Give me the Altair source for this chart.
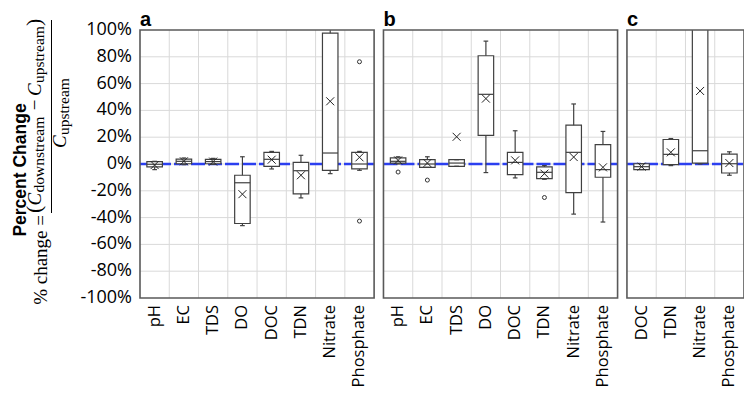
import altair as alt
import pandas as pd

# ---------------- data (percent change) ----------------
panels = ["a", "b", "c"]
params_a = ["pH", "EC", "TDS", "DO", "DOC", "TDN", "Nitrate", "Phosphate"]
params_b = ["pH", "EC", "TDS", "DO", "DOC", "TDN", "Nitrate", "Phosphate"]
params_c = ["DOC", "TDN", "Nitrate", "Phosphate"]

lo_a = [-4.2, -0.5, -0.3, -46.0, -3.7, -25.3, -7.2, -4.7]
q1_a = [-2.2, 0.2, 0.2, -44.4, -1.7, -22.3, -4.7, -3.7]
med_a = [-0.2, 2.0, 1.8, -14.0, 3.5, -5.0, 8.2, 0.0]
q3_a = [1.7, 3.7, 3.5, -8.4, 8.7, 1.2, 97.6, 8.7]
hi_a = [2.0, 4.5, 4.2, 5.4, 9.4, 6.5, 105.0, 9.4]
mean_a = [-0.8, 2.0, 1.8, -22.5, 3.2, -8.4, 46.8, 5.0]
out_a_param = ["Phosphate", "Phosphate"]
out_a_val = [76.3, -42.6]

lo_b = [0.0, -2.5, -1.7, -6.4, -10.4, -11.4, -37.4, -43.3]
q1_b = [0.7, -2.5, -1.7, 21.3, -8.0, -10.9, -21.3, -9.9]
med_b = [2.0, 0.0, 0.7, 52.0, 1.2, -6.2, 8.7, -4.2]
q3_b = [4.5, 3.2, 3.2, 80.8, 8.7, -2.2, 29.0, 14.4]
hi_b = [5.4, 5.4, 3.2, 91.7, 24.8, -1.2, 44.8, 24.3]
mean_b = [2.7, 0.7, 20.3, 48.8, 2.7, -7.2, 5.2, -2.5]
out_b_param = ["pH", "EC", "TDN"]
out_b_val = [-6.0, -12.0, -25.0]

lo_c = [-4.2, -1.2, 0.0, -8.4]
q1_c = [-4.2, -0.5, 0.7, -6.7]
med_c = [-2.0, 7.2, 9.9, 0.2]
q3_c = [0.2, 18.3, 160.0, 7.4]
hi_c = [0.2, 19.0, 190.0, 9.1]
mean_c = [-2.0, 8.7, 54.5, 0.7]
out_c_param = []
out_c_val = []

y_ticks = [-100, -80, -60, -40, -20, 0, 20, 40, 60, 80, 100]
y_labels = [f"{t}%" for t in y_ticks]

# ---------------- layout helpers ----------------
W, H = 604, 268
gap = 0.32
half_box = 0.265
half_cap = 0.08

panel_params = [params_a, params_b, params_c]
stats = [
    (lo_a, q1_a, med_a, q3_a, hi_a, mean_a, out_a_param, out_a_val),
    (lo_b, q1_b, med_b, q3_b, hi_b, mean_b, out_b_param, out_b_val),
    (lo_c, q1_c, med_c, q3_c, hi_c, mean_c, out_c_param, out_c_val),
]

starts = []
s = 0.0
for p in panel_params:
    starts.append(s)
    s += len(p) + gap
total = s - gap

box_rows, out_rows, panel_rows, hgrid_rows, vgrid_rows = [], [], [], [], []
for letter, start, params, st in zip(panels, starts, panel_params, stats):
    lo, q1, med, q3, hi, mean, op, ov = st
    end = start + len(params)
    panel_rows.append(dict(panel=letter, start=start, end=end, zero=0))
    for t in y_ticks[1:-1]:
        hgrid_rows.append(dict(start=start, end=end, v=t))
    for k in range(1, len(params)):
        vgrid_rows.append(dict(b=start + k))
    centers = {}
    for i, name in enumerate(params):
        c = start + i + 0.5
        centers[name] = c
        box_rows.append(dict(panel=letter, param=name, c=c,
                             bl=c - half_box, br=c + half_box,
                             cl=c - half_cap, cr=c + half_cap,
                             lo=lo[i], q1=q1[i], med=med[i], q3=q3[i],
                             hi=hi[i], mean=mean[i]))
    for name, v in zip(op, ov):
        out_rows.append(dict(c=centers[name], v=v))

box = pd.DataFrame(box_rows)
outl = pd.DataFrame(out_rows)
pan = pd.DataFrame(panel_rows)
hgrid = pd.DataFrame(hgrid_rows)
vgrid = pd.DataFrame(vgrid_rows)
yt = pd.DataFrame({"v": y_ticks, "lab": y_labels})
one = pd.DataFrame({"k": [0]})

xs = alt.Scale(domain=[0, total], nice=False, zero=False)
ys = alt.Scale(domain=[-100, 100], nice=False, zero=False)


def X(f):
    return alt.X(f + ":Q", scale=xs, axis=None)


def Y(f):
    return alt.Y(f + ":Q", scale=ys, axis=None)


edge = "#404040"

hgrid_l = alt.Chart(hgrid).mark_rule(color="#d9d9d9", strokeWidth=1).encode(
    x=X("start"), x2="end", y=Y("v")
)
vgrid_l = alt.Chart(vgrid).mark_rule(color="#d9d9d9", strokeWidth=1).encode(
    x=X("b"), y=alt.value(0), y2=alt.value(H)
)
ylabels = alt.Chart(yt).mark_text(align="right", baseline="middle",
                                  font="Open Sans", fontSize=18,
                                  color="black").encode(
    x=alt.value(-8), y=Y("v"), text="lab:N"
)
blue_l = alt.Chart(pan).mark_rule(color="#2b3ff0", strokeWidth=2.6,
                                  strokeDash=[14, 3]).encode(
    x=X("start"), x2="end", y=Y("zero")
)
whisk = alt.Chart(box).mark_rule(color=edge, strokeWidth=1.2, clip=True).encode(
    x=X("c"), y=Y("lo"), y2="hi"
)
boxes = alt.Chart(box).mark_rect(fill="white", stroke=edge, strokeWidth=1.2,
                                 clip=True).encode(
    x=X("bl"), x2="br", y=Y("q1"), y2="q3"
)
medl = alt.Chart(box).mark_rule(color=edge, strokeWidth=1.2, clip=True).encode(
    x=X("bl"), x2="br", y=Y("med")
)
cap_lo = alt.Chart(box).mark_rule(color=edge, strokeWidth=1.2, clip=True).encode(
    x=X("cl"), x2="cr", y=Y("lo")
)
cap_hi = alt.Chart(box).mark_rule(color=edge, strokeWidth=1.2, clip=True).encode(
    x=X("cl"), x2="cr", y=Y("hi")
)
means = alt.Chart(box).mark_point(shape="M-1,-1L1,1M-1,1L1,-1", size=64,
                                  filled=False, color="#222222",
                                  strokeWidth=1, opacity=1, clip=True).encode(
    x=X("c"), y=Y("mean")
)
outs = alt.Chart(outl).mark_point(shape="circle", size=16, filled=True,
                                  fill="white", stroke="#333333",
                                  strokeWidth=1, opacity=1).encode(
    x=X("c"), y=Y("v")
)
frames = alt.Chart(pan).mark_rect(fill="white", fillOpacity=0,
                                  stroke="#595959", strokeWidth=1.6).encode(
    x=X("start"), x2="end", y=alt.value(0), y2=alt.value(H)
)
xlabels = alt.Chart(box).mark_text(angle=270, align="right", baseline="middle",
                                   font="Open Sans", fontSize=16.5,
                                   color="black").encode(
    x=X("c"), y=alt.value(H + 7), text="param:N"
)
titles = alt.Chart(pan).mark_text(align="left", baseline="alphabetic",
                                  font="Liberation Sans", fontWeight="bold",
                                  fontSize=20, color="black").encode(
    x=X("start"), y=alt.value(-4), text="panel:N"
)


def note(text, x, y, size, align="left", style="normal", weight="normal",
         font="Liberation Serif"):
    return alt.Chart(one).mark_text(
        text=text, angle=270, align=align, baseline="alphabetic", font=font,
        fontSize=size, fontStyle=style, fontWeight=weight, color="black"
    ).encode(x=alt.value(x), y=alt.value(y))


notes = [
    note("Percent Change", -114, 140, 17.5, align="center", weight="bold",
         font="Liberation Sans"),
    note("% change =", -93, 185, 19, align="right"),
    note("(", -99, 183, 22),
    note("C", -99, 175.5, 19, style="italic"),
    note("downstream", -96, 162.5, 15.5),
    note("\u2212", -99, 75, 19, align="center"),
    note("C", -99, 66, 19, style="italic"),
    note("upstream", -96, 53, 15.5),
    note(")", -99, -4, 22),
    note("C", -74, 118, 19, style="italic"),
    note("upstream", -71, 105, 15.5),
]
bar = alt.Chart(one).mark_rule(color="black", strokeWidth=1).encode(
    x=alt.value(-88.5), y=alt.value(183), y2=alt.value(-10)
)

chart = alt.layer(
    hgrid_l, vgrid_l, blue_l, whisk, boxes, medl, cap_lo, cap_hi, means,
    outs, frames, xlabels, ylabels, titles, bar, *notes
).properties(
    width=W, height=H,
    autosize=alt.AutoSizeParams(type="none"),
    padding={"left": 132, "top": 22, "right": 0, "bottom": 90},
    background="white",
).configure_view(stroke=None)

chart.save("out.html", embed_options={"renderer": "svg", "actions": False})
